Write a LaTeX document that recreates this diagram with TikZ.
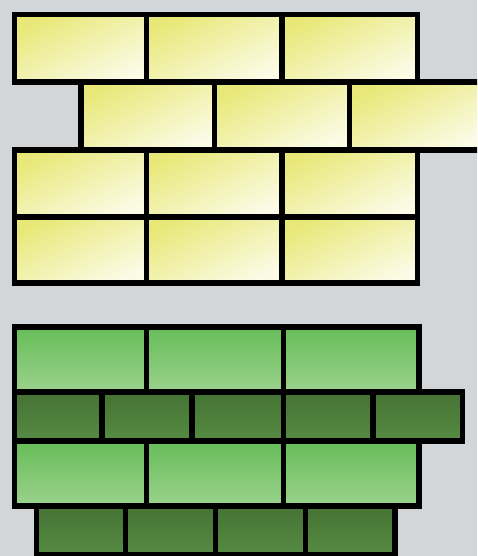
\documentclass[tikz,border=0pt]{standalone}
\definecolor{bgc}{HTML}{D3D6D9}
\definecolor{yelA}{HTML}{E8E878}
\definecolor{yelB}{HTML}{FBFBE6}
\definecolor{lgA}{HTML}{66BD58}
\definecolor{lgB}{HTML}{9BD28D}
\definecolor{dgA}{HTML}{457233}
\definecolor{dgB}{HTML}{568B44}
\tikzset{
  brick/.style={draw=black, line width=5.5pt, line join=miter},
  ybrick/.style={brick, top color=yelA, bottom color=yelB, shading angle=25},
  lgbrick/.style={brick, top color=lgA, bottom color=lgB},
  dgbrick/.style={brick, top color=dgA, bottom color=dgB}
}
\begin{document}
\begin{tikzpicture}[x=1pt,y=-1pt]
\useasboundingbox (0,0) rectangle (477,556);
\fill[bgc] (0,0) rectangle (477,556);
\clip (0,0) rectangle (477,556);
% yellow wall
\foreach \yt/\yb in {14.5/82, 150/217, 217/283}{
  \foreach \a/\b in {14.5/146.5, 146.5/282, 282/417.5}{
    \draw[ybrick] (\a,\yt) rectangle (\b,\yb);
  }
}
\foreach \a/\b in {81/214.5, 214.5/349.5, 349.5/484}{
  \draw[ybrick] (\a,82) rectangle (\b,150);
}
% green wall
\foreach \yt/\yb in {327/392, 441/506}{
  \foreach \a/\b in {14.5/146.5, 146.5/283.5, 283.5/419}{
    \draw[lgbrick] (\a,\yt) rectangle (\b,\yb);
  }
}
\foreach \a/\b in {14.5/102, 102/192, 192/283.5, 283.5/373, 373/462.5}{
  \draw[dgbrick] (\a,392) rectangle (\b,441);
}
\foreach \a/\b in {36.5/125.5, 125.5/215.5, 215.5/305.5, 305.5/395}{
  \draw[dgbrick] (\a,506) rectangle (\b,554.5);
}
\end{tikzpicture}
\end{document}
